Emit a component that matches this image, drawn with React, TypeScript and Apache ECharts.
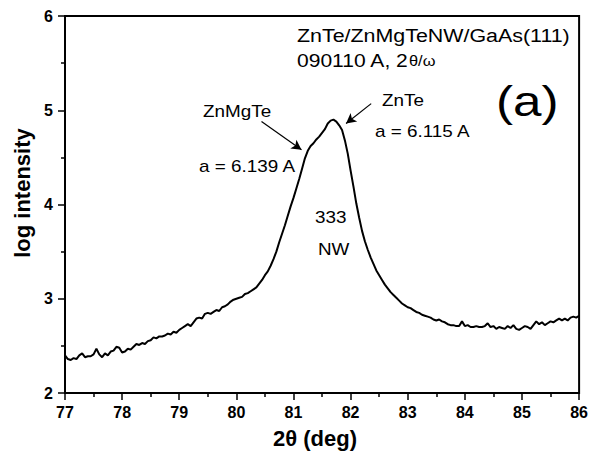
import React, { useEffect, useRef } from "react";
import * as echarts from "echarts";

const twoTheta: number[] = [
  77.0, 77.05, 77.1, 77.15, 77.2, 77.25, 77.3, 77.35, 77.4, 77.45, 77.5, 77.55, 77.6, 77.65, 77.7, 77.75, 77.8, 77.85, 77.9, 77.95,
  78.0, 78.05, 78.1, 78.15, 78.2, 78.25, 78.3, 78.35, 78.4, 78.45, 78.5, 78.55, 78.6, 78.65, 78.7, 78.75, 78.8, 78.85, 78.9, 78.95,
  79.0, 79.05, 79.1, 79.15, 79.2, 79.25, 79.3, 79.35, 79.4, 79.45, 79.5, 79.55, 79.6, 79.65, 79.7, 79.75, 79.8, 79.85, 79.9, 79.95,
  80.0, 80.05, 80.1, 80.15, 80.2, 80.25, 80.3, 80.35, 80.4, 80.45, 80.5, 80.55, 80.6, 80.65, 80.7, 80.75, 80.8, 80.85, 80.9, 80.95,
  81.0, 81.05, 81.1, 81.15, 81.2, 81.25, 81.3, 81.35, 81.4, 81.45, 81.5, 81.55, 81.6, 81.65, 81.7, 81.75, 81.8, 81.85, 81.9, 81.95,
  82.0, 82.05, 82.1, 82.15, 82.2, 82.25, 82.3, 82.35, 82.4, 82.45, 82.5, 82.55, 82.6, 82.65, 82.7, 82.75, 82.8, 82.85, 82.9, 82.95,
  83.0, 83.05, 83.1, 83.15, 83.2, 83.25, 83.3, 83.35, 83.4, 83.45, 83.5, 83.55, 83.6, 83.65, 83.7, 83.75, 83.8, 83.85, 83.9, 83.95,
  84.0, 84.05, 84.1, 84.15, 84.2, 84.25, 84.3, 84.35, 84.4, 84.45, 84.5, 84.55, 84.6, 84.65, 84.7, 84.75, 84.8, 84.85, 84.9, 84.95,
  85.0, 85.05, 85.1, 85.15, 85.2, 85.25, 85.3, 85.35, 85.4, 85.45, 85.5, 85.55, 85.6, 85.65, 85.7, 85.75, 85.8, 85.85, 85.9, 85.95,
  86.0,
];

const logIntensity: number[] = [
  2.40, 2.36, 2.35, 2.37, 2.36, 2.40, 2.42, 2.38, 2.39, 2.39, 2.41, 2.47, 2.41, 2.38, 2.42, 2.40, 2.44, 2.45, 2.49, 2.48,
  2.43, 2.44, 2.47, 2.46, 2.49, 2.52, 2.51, 2.53, 2.52, 2.55, 2.56, 2.59, 2.58, 2.60, 2.60, 2.61, 2.63, 2.62, 2.65, 2.64,
  2.67, 2.69, 2.71, 2.73, 2.71, 2.75, 2.79, 2.80, 2.79, 2.84, 2.85, 2.84, 2.86, 2.88, 2.87, 2.91, 2.92, 2.94, 2.97, 2.99,
  3.00, 3.01, 3.02, 3.05, 3.06, 3.08, 3.10, 3.12, 3.16, 3.20, 3.25, 3.29, 3.35, 3.42, 3.50, 3.60, 3.69, 3.78, 3.88, 3.98,
  4.07, 4.17, 4.27, 4.38, 4.49, 4.57, 4.62, 4.65, 4.69, 4.72, 4.76, 4.80, 4.86, 4.89, 4.90, 4.88, 4.84, 4.79, 4.68, 4.54,
  4.36, 4.19, 4.01, 3.86, 3.72, 3.61, 3.52, 3.44, 3.37, 3.30, 3.25, 3.20, 3.15, 3.11, 3.07, 3.04, 3.01, 2.98, 2.95, 2.93,
  2.91, 2.90, 2.88, 2.86, 2.85, 2.83, 2.82, 2.81, 2.80, 2.78, 2.77, 2.78, 2.76, 2.75, 2.73, 2.72, 2.72, 2.71, 2.71, 2.76,
  2.71, 2.72, 2.70, 2.70, 2.71, 2.70, 2.70, 2.71, 2.74, 2.70, 2.71, 2.68, 2.70, 2.69, 2.68, 2.71, 2.69, 2.72, 2.68, 2.67,
  2.69, 2.71, 2.70, 2.68, 2.72, 2.76, 2.73, 2.75, 2.72, 2.74, 2.76, 2.75, 2.77, 2.79, 2.77, 2.79, 2.77, 2.80, 2.81, 2.80,
  2.82,
];

const xTickMin = 77;
const xTickMax = 86;
const yTickMin = 2;
const yTickMax = 6;

// Arrow annotations in data coordinates: [fromX, fromY, toX, toY]
const arrowZnMgTe = [80.44, 4.88, 81.14, 4.58];
const arrowZnTe = [82.36, 5.07, 81.92, 4.86];

const FONT = "'Liberation Sans', Arial, Helvetica, sans-serif";

export default function App() {
  const ref = useRef<HTMLDivElement>(null);

  useEffect(() => {
    if (!ref.current) return;
    const chart = echarts.init(ref.current, null, { renderer: "svg" });
    const data = twoTheta.map((x, i) => [x, logIntensity[i]]);

    const annText = (text: string, x: number, y: number, size: number, sx: number, extra: any = {}) => ({
      type: "text",
      x,
      y,
      scaleX: sx,
      style: {
        text,
        fontSize: size,
        fontFamily: FONT,
        fill: "#000",
        align: "left",
        verticalAlign: "middle",
        ...extra,
      },
    });

    chart.setOption({
      animation: false,
      backgroundColor: "#fff",
      grid: {
        left: 65,
        top: 16,
        width: 515,
        height: 377,
        show: true,
        borderColor: "#000",
        borderWidth: 2,
        containLabel: false,
      },
      xAxis: {
        type: "value",
        min: xTickMin,
        max: xTickMax,
        interval: 1,
        axisLine: { show: true, onZero: false, lineStyle: { color: "#000", width: 2 } },
        axisTick: { show: true, inside: false, length: 7, lineStyle: { color: "#000", width: 1.5 } },
        minorTick: { show: true, splitNumber: 2, length: 4, lineStyle: { color: "#000", width: 1.5 } },
        axisLabel: { fontSize: 16, fontWeight: "bold", fontFamily: FONT, color: "#000", margin: 11 },
        splitLine: { show: false },
        minorSplitLine: { show: false },
      },
      yAxis: {
        type: "value",
        min: yTickMin,
        max: yTickMax,
        interval: 1,
        axisLine: { show: true, onZero: false, lineStyle: { color: "#000", width: 2 } },
        axisTick: { show: true, inside: false, length: 7, lineStyle: { color: "#000", width: 1.5 } },
        minorTick: { show: true, splitNumber: 2, length: 4, lineStyle: { color: "#000", width: 1.5 } },
        axisLabel: { fontSize: 16, fontWeight: "bold", fontFamily: FONT, color: "#000", margin: 12 },
        splitLine: { show: false },
        minorSplitLine: { show: false },
      },
      series: [
        {
          type: "line",
          data,
          showSymbol: false,
          symbol: "none",
          lineStyle: { color: "#000", width: 2 },
          silent: true,
          markLine: {
            silent: true,
            symbol: ["none", "arrow"],
            symbolSize: [8, 10],
            label: { show: false },
            lineStyle: { color: "#000", width: 1.2, type: "solid" },
            data: [
              [
                { coord: [arrowZnMgTe[0], arrowZnMgTe[1]] },
                { coord: [arrowZnMgTe[2], arrowZnMgTe[3]] },
              ],
              [
                { coord: [arrowZnTe[0], arrowZnTe[1]] },
                { coord: [arrowZnTe[2], arrowZnTe[3]] },
              ],
            ],
          },
        },
      ],
      graphic: [
        {
          type: "text",
          x: 315,
          y: 438,
          style: {
            text: "2θ (deg)",
            fontSize: 22,
            fontWeight: "bold",
            fontFamily: FONT,
            fill: "#000",
            align: "center",
            verticalAlign: "middle",
          },
        },
        {
          type: "text",
          x: 22,
          y: 193,
          rotation: Math.PI / 2,
          style: {
            text: "log intensity",
            fontSize: 22,
            fontWeight: "bold",
            fontFamily: FONT,
            fill: "#000",
            align: "center",
            verticalAlign: "middle",
          },
        },
        annText("ZnTe/ZnMgTeNW/GaAs(111)", 297, 36, 18, 1.19),
        {
          type: "text",
          x: 297,
          y: 61,
          scaleX: 1.17,
          style: {
            text: "{a|090110 A, 2}{b|θ/ω}",
            fontFamily: FONT,
            fill: "#000",
            align: "left",
            verticalAlign: "middle",
            rich: {
              a: { fontSize: 18, fontFamily: FONT, fill: "#000" },
              b: { fontSize: 14, fontFamily: FONT, fill: "#000" },
            },
          },
        },
        annText("(a)", 496, 102, 42, 1.22),
        annText("ZnTe", 382, 101, 16, 1.18),
        annText("a = 6.115 A", 375, 132, 16, 1.18),
        annText("ZnMgTe", 203, 112, 16, 1.18),
        annText("a = 6.139 A", 199, 167, 16, 1.18),
        annText("333", 315, 218, 16, 1.18),
        annText("NW", 318, 250, 16, 1.18),
      ],
    });

    return () => chart.dispose();
  }, []);

  return (
    <div
      ref={ref}
      style={{ position: "fixed", left: 0, top: 0, width: 591, height: 455, background: "#fff" }}
    />
  );
}
